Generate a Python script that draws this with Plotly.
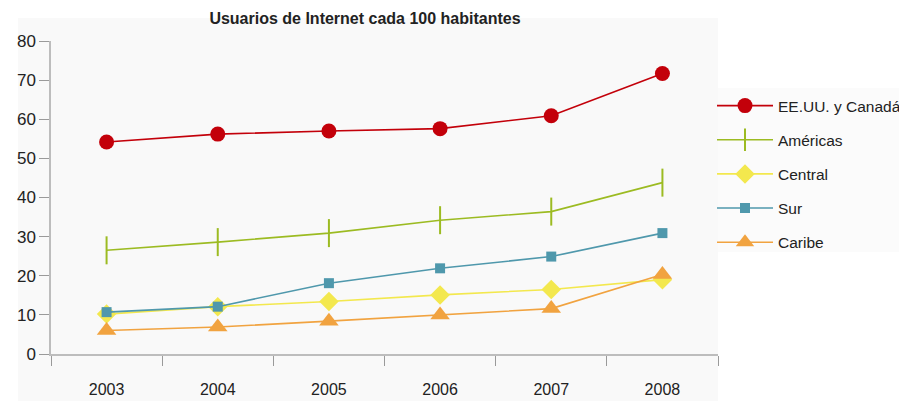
import plotly.graph_objects as go

years = ["2003", "2004", "2005", "2006", "2007", "2008"]
series_names = ["EE.UU. y Canadá", "Américas", "Central", "Sur", "Caribe"]
eeuu = [54.2, 56.2, 57.0, 57.6, 60.9, 71.7]
americas = [26.5, 28.6, 30.9, 34.2, 36.4, 43.8]
central = [10.2, 12.1, 13.4, 15.1, 16.5, 19.0]
sur = [10.7, 12.1, 18.1, 21.9, 24.9, 30.9]
caribe = [6.0, 6.9, 8.4, 10.0, 11.6, 20.3]

values = [eeuu, americas, central, sur, caribe]
colors = ["#c3000a", "#9cbb22", "#f3e84e", "#4f98ac", "#f1a340"]
symbols = ["circle", "line-ns", "diamond", "square", "triangle-up"]
sizes = [15, 20, 15, 10, 17]

FONT = "Liberation Sans, Arial, sans-serif"

# page body has an 8px margin: figure is shrunk so it ends at the window edge
W, H = 899, 393
L, R, T, B = 43, 189, 33, 47   # plot area 667 x 313
PW, PH = W - L - R, H - T - B

fig = go.Figure()
for i, (name, vals) in enumerate(zip(series_names, values)):
    fig.add_trace(go.Scatter(
        x=years, y=vals, name=name, mode="lines+markers",
        line=dict(color=colors[i], width=1.6),
        marker=dict(symbol=symbols[i], size=sizes[i], color=colors[i],
                    line=dict(color=colors[i], width=2 if symbols[i] == "line-ns" else 0)),
        legendgroup=name,
    ))

fig.add_shape(type="rect", xref="paper", yref="paper",
              x0=-33/PW, x1=1.0, y0=-B/PH, y1=1 + 23/PH,
              fillcolor="#f9f9f9", line=dict(width=0), layer="below")
fig.add_shape(type="rect", xref="paper", yref="paper",
              x0=1.0, x1=1 + R/PW, y0=(354-252)/PH, y1=(354-88)/PH,
              fillcolor="#fbfbfb", line=dict(width=0), layer="below")

fig.update_layout(
    width=W, height=H,
    margin=dict(l=L, r=R, t=T, b=B, autoexpand=False),
    paper_bgcolor="white",
    plot_bgcolor="rgba(0,0,0,0)",
    font=dict(family=FONT, size=16, color="#222"),
    title=dict(text="<b>Usuarios de Internet cada 100 habitantes</b>",
               x=(365-51)/PW, xref="paper", xanchor="center",
               y=1 - 10/H, yref="container", yanchor="middle",
               font=dict(family=FONT, size=16, color="#222")),
    showlegend=True,
    legend=dict(x=(712-51)/PW, xanchor="left", y=(354-89)/PH, yanchor="top",
                bgcolor="rgba(0,0,0,0)", tracegroupgap=11,
                font=dict(family=FONT, size=15.5, color="#222"),
                itemwidth=56),
    xaxis=dict(type="category", range=[-0.5, 5.5], showgrid=False, zeroline=False,
               showline=True, linecolor="#bdbdbd", linewidth=1.5,
               ticks="outside", tickson="boundaries", ticklen=10,
               tickcolor="#9a9a9a", tickwidth=1.2,
               ticklabelstandoff=20,
               tickfont=dict(family=FONT, size=16, color="#222"),
               fixedrange=True),
    yaxis=dict(range=[0, 80], dtick=10, showgrid=False, zeroline=False,
               showline=True, linecolor="#bdbdbd", linewidth=1.5,
               ticks="outside", ticklen=10, tickcolor="#9a9a9a", tickwidth=1.2,
               tickfont=dict(family=FONT, size=17, color="#222"),
               fixedrange=True),
)

fig.write_html("out.html")
